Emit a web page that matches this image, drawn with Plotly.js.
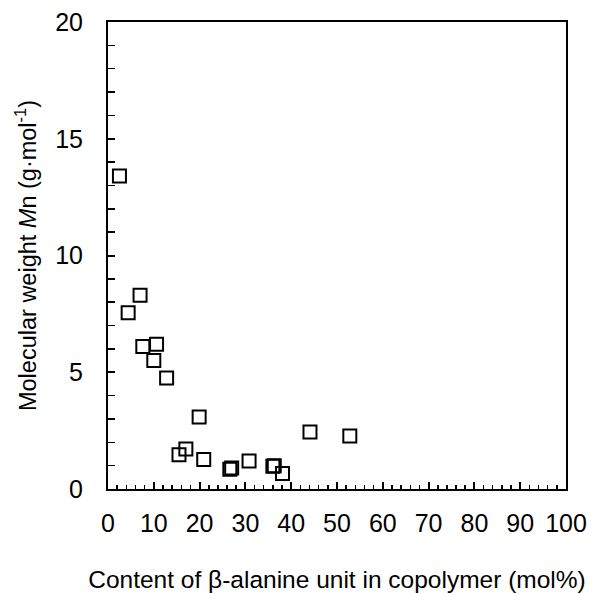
<!DOCTYPE html>
<html>
<head>
<meta charset="utf-8">
<script src="https://cdn.plot.ly/plotly-3.0.1.min.js"></script>
<style>body{margin:0;padding:0;background:#fff;}#chart{width:616px;height:593px;}</style>
</head>
<body>
<div id="chart"></div>
<script>
// β-alanine content (mol%)
const betaAlanineContent = [2.5, 7.0, 4.4, 7.6, 10.6, 10.0, 12.8, 19.9, 15.5, 17.0, 20.9, 26.6, 27.0, 30.8, 36.0, 36.3, 38.1, 44.1, 52.8];
// Molecular weight Mn
const molecularWeight = [13.4, 8.3, 7.55, 6.1, 6.2, 5.5, 4.75, 3.08, 1.47, 1.71, 1.26, 0.85, 0.9, 1.2, 0.97, 1.0, 0.66, 2.44, 2.27];
const xTickValues = [0, 10, 20, 30, 40, 50, 60, 70, 80, 90, 100];
const yTickValues = [0, 5, 10, 15, 20];

const font = "Liberation Sans, Arial, sans-serif";

Plotly.newPlot('chart', [{
  type: 'scatter',
  mode: 'markers',
  x: betaAlanineContent,
  y: molecularWeight,
  marker: {symbol: 'square-open', size: 13, color: '#000', line: {width: 2, color: '#000'}},
  cliponaxis: false,
  hoverinfo: 'none'
}], {
  width: 616, height: 593,
  margin: {l: 108, r: 50, t: 22, b: 104},
  paper_bgcolor: '#fff', plot_bgcolor: '#fff',
  showlegend: false,
  font: {family: font, size: 24, color: '#000'},
  xaxis: {
    range: [0, 100], tickvals: xTickValues, ticktext: xTickValues.map(String),
    ticks: 'inside', ticklen: 7, tickwidth: 2, tickcolor: '#000',
    minor: {dtick: 2, tick0: 0, ticks: 'inside', ticklen: 4, tickwidth: 1.5, tickcolor: '#000'},
    showline: true, linewidth: 2, linecolor: '#000', mirror: true,
    showgrid: false, zeroline: false,
    ticklabelstandoff: 11,
    tickfont: {size: 25},
    title: {text: 'Content of β-alanine unit in copolymer (mol%)', font: {size: 24.5}, standoff: 36}
  },
  yaxis: {
    range: [0, 20], tickvals: yTickValues, ticktext: yTickValues.map(String),
    ticks: 'inside', ticklen: 7, tickwidth: 2, tickcolor: '#000',
    minor: {dtick: 1, tick0: 0, ticks: 'inside', ticklen: 7, tickwidth: 1.5, tickcolor: '#000'},
    showline: true, linewidth: 2, linecolor: '#000', mirror: true,
    showgrid: false, zeroline: false,
    ticklabelstandoff: 18,
    tickfont: {size: 25},
    title: {text: 'Molecular weight <i>M</i>n (g·mol<sup>-1</sup>)', font: {size: 23.5}, standoff: 12}
  }
}, {displayModeBar: false, staticPlot: true});
</script>
</body>
</html>
